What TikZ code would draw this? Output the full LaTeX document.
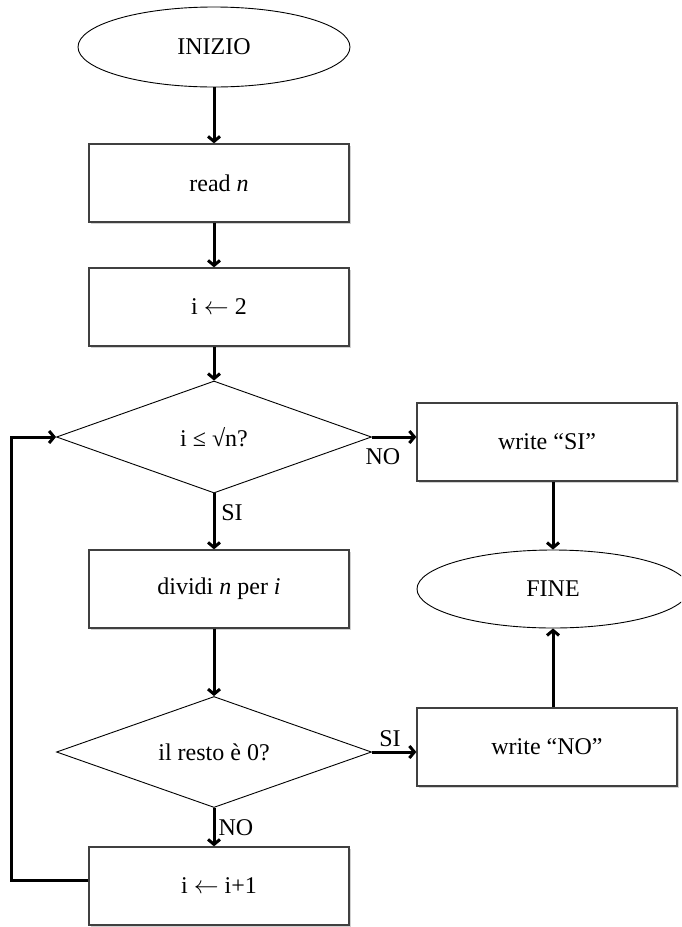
\documentclass[tikz,border=0pt]{standalone}
\usepackage{fontspec}
\setmainfont{Liberation Serif}
\usetikzlibrary{shapes.geometric,arrows.meta,shadows}

\newcommand{\assignarrow}{\ensuremath{\leftarrow}}

\tikzset{
  txt/.style={font=\fontsize{24}{28}\selectfont},
  procbox/.style={txt, draw=black!75, line width=1.3pt, fill=white, rectangle,
    minimum width=260pt, minimum height=78pt, inner sep=0pt,
    drop shadow={shadow xshift=1.5pt, shadow yshift=-1.5pt, opacity=0.18, fill=black}},
  termnode/.style={txt, draw=black, line width=0.9pt, fill=white, ellipse,
    minimum width=272pt, minimum height=80pt, inner sep=0pt},
  testnode/.style={txt, draw=black, line width=0.9pt, fill=white, diamond,
    shape aspect=2.8, minimum width=315pt, minimum height=112pt, inner sep=0pt},
  flow/.style={line width=3pt, line join=miter,
    -{Straight Barb[length=5pt,width=12pt]}},
  branch/.style={txt, inner sep=0pt},
}

\begin{document}
\begin{tikzpicture}[x=1pt,y=-1pt]
  \useasboundingbox (0,0) rectangle (681,927);
  \begin{scope}
  \clip (0,0) rectangle (681,927);

  % main column
  \node[termnode] (ini) at (214,47)  {INIZIO};
  \node[procbox]  (read) at (219,183) {read \textit{n}};
  \node[procbox]  (i2)   at (219,307) {i \assignarrow{} 2};
  \node[testnode] (d1)   at (214,437) {i ≤ √n?};
  \node[procbox]  (div)  at (219,589) {dividi \textit{n} per \textit{i}};
  \node[testnode, minimum height=111pt] (d2) at (214,752) {il resto è 0?};
  \node[procbox]  (inc)  at (219,886) {i \assignarrow{} i+1};

  % right column
  \node[procbox]  (wsi)  at (547,442) {write “SI”};
  \node[termnode, minimum height=78pt] (fine) at (553,589) {FINE};
  \node[procbox]  (wno)  at (547,747) {write “NO”};

  % loop-back corners
  \coordinate (loopbot) at (11,880);
  \coordinate (looptop) at (11,437);

  % connectors
  \draw[flow] (ini.south) -- (ini.south |- read.north);
  \draw[flow] (read.south -| ini.south) -- (i2.north -| ini.south);
  \draw[flow] (i2.south -| d1.north) -- (d1.north);
  \draw[flow] (d1.south) -- (d1.south |- div.north);
  \draw[flow] (div.south -| d2.north) -- (d2.north);
  \draw[flow] (d2.south) -- (d2.south |- inc.north);
  \draw[flow] (d1.east) -- (d1.east -| wsi.west);
  \draw[flow] (d2.east) -- (d2.east -| wno.west);
  \draw[flow] (wsi.south -| fine.north) -- (fine.north);
  \draw[flow] (wno.north -| fine.south) -- (fine.south);
  \draw[flow] (inc.west |- loopbot) -- (loopbot) -- (looptop) -- (d1.west);

  % branch labels
  \node[branch] (lno1) at (383,457) {NO};
  \node[branch] (lsi1) at (232,513) {SI};
  \node[branch] (lsi2) at (390,739) {SI};
  \node[branch] (lno2) at (236,828) {NO};
  \end{scope}
\end{tikzpicture}
\end{document}
